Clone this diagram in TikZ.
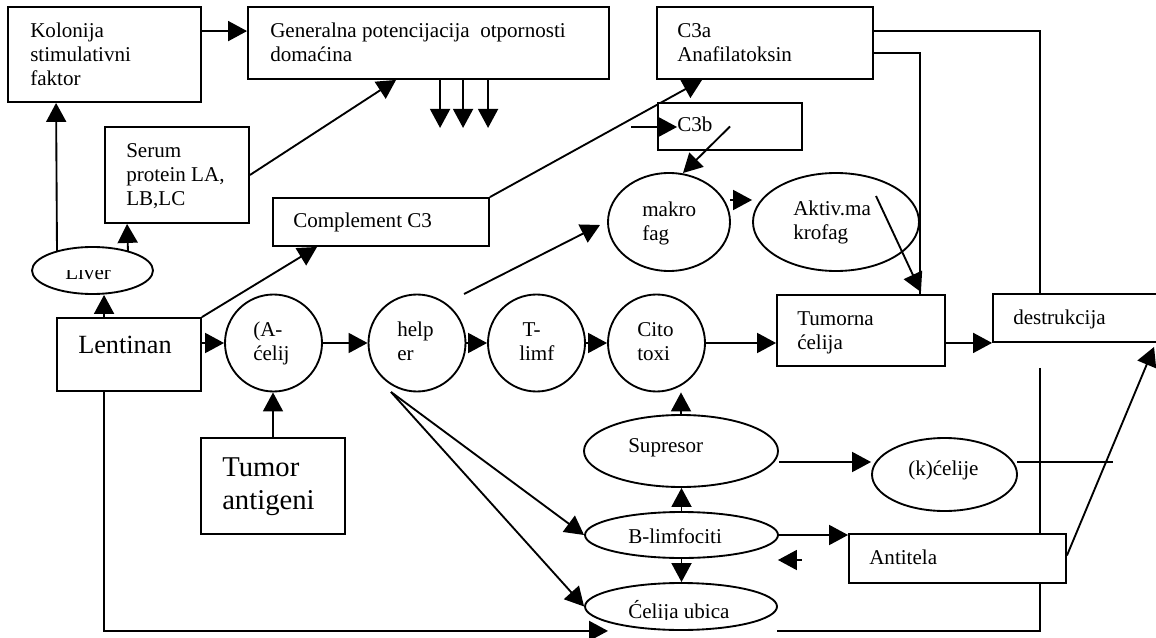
\documentclass[tikz,border=0pt]{standalone}
\usepackage{fontspec}
\setmainfont{Liberation Serif}
\usetikzlibrary{arrows.meta,fit,shapes.geometric,backgrounds,calc}
\newcommand\mlines[1]{\vtop{\halign{##\hfil\cr#1\crcr}}}
\begin{document}
\begin{tikzpicture}[x=0.75pt,y=-0.75pt,
  lw/.style={line width=1.4pt},
  box/.style={draw,lw,fill=white,rectangle,inner sep=0pt},
  oval/.style={draw,lw,fill=white,ellipse,inner sep=0pt},
  circ/.style={draw,lw,fill=white,circle,inner sep=0pt,minimum size=72.75pt},
  txt/.style={anchor=base west,inner sep=0pt,font=\fontsize{15.8}{18}\selectfont},
  arr/.style={lw,-{Triangle[length=14.25pt,width=15pt]}},
  con/.style={lw}]
\useasboundingbox (0,0) rectangle (1156,638);

% boxes
\node[box,fit={(8,7)(201,102)}] (kolonija) {};
\node[box,fit={(248,7)(609,79)}] (generalna) {};
\node[box,fit={(657,7)(873,79)}] (c3a) {};
\node[box,fit={(658,103)(802,150)}] (c3b) {};
\node[box,fit={(105,127)(249,223)}] (serum) {};
\node[box,fit={(273,198)(489,246)}] (complement) {};
\node[box,fit={(57,318)(201,391)}] (lentinan) {};
\node[box,fit={(777,295)(945,366)}] (tumorna) {};
\node[box,fit={(993,294)(1175,342)}] (destr) {};
\node[box,fit={(201,438)(345,534)}] (tumorant) {};
\node[box,fit={(849,534)(1066,583)}] (antitela) {};

% ellipses
\node[oval,minimum width=90.75pt,minimum height=35.25pt] (liver) at (92.5,270.5) {};
\node[oval,minimum width=91.5pt,minimum height=73.5pt] (makro) at (669,222) {};
\node[oval,minimum width=124.5pt,minimum height=73.5pt] (aktiv) at (836,222) {};
\node[oval,minimum width=145.5pt,minimum height=54pt] (supresor) at (681,451) {};
\node[oval,minimum width=144.75pt,minimum height=34.5pt] (blimf) at (681.5,535) {};
\node[oval,minimum width=144pt,minimum height=35.25pt] (celija) at (681,606.5) {};
\node[oval,minimum width=108.75pt,minimum height=54.75pt] (kcelije) at (944.5,474.5) {};

% circles
\node[circ] (acel) at (273.5,343) {};
\node[circ] (help) at (417,343) {};
\node[circ] (tlimf) at (536.5,343) {};
\node[circ] (cito) at (656.5,343) {};

% connectors behind the shapes
\begin{pgfonlayer}{background}
\draw[arr] ($(kolonija.north east)+(0,25)$) coordinate (a1) -- (a1 -| generalna.west);
\foreach \dx in {193,216,241} \draw[arr] ($(generalna.south west)+(\dx,0)$) -- ++(0,48);
\draw[arr] (serum.east) -- ($(generalna.south west)+(149,0)$);
\draw[arr] ($(liver.center)+(-35.5,-19)$) -- ($(kolonija.south west)+(49,0)$);
\draw[arr] ($(liver.center)+(35.5,-19)$) -- ($(serum.south west)+(23,0)$);
\draw[arr] ($(lentinan.north west)+(48,0)$) coordinate (a6) -- (a6 |- liver.south);
\draw[arr] (lentinan.north east) -- ($(complement.south west)+(45,0)$);
\draw[arr] (complement.north east) -- ($(c3a.south west)+(46,0)$);
\draw[arr] (acel.west -| lentinan.east) -- (acel.west);
\draw[arr] (acel) -- (help);
\draw[arr] (help) -- (tlimf);
\draw[arr] (tlimf) -- (cito);
\draw[arr] (cito.east) -- (cito.east -| tumorna.west);
\draw[arr] (destr.south west -| tumorna.east) -- (destr.south west);
\draw[arr] ($(help.center)+(47,-49)$) -- ($(makro.center)+(-69,3)$);
\draw[arr] ($(help.center)+(-26,49)$) coordinate (h1) -- (blimf.west);
\draw[arr] (h1) -- (celija.west);
\draw[arr] (tumorant.north) -- (tumorant.north |- acel.south);
\draw[arr] (supresor.north) -- (supresor.north |- cito.south);
\draw[arr] (blimf.north) -- (blimf.north |- supresor.south);
\draw[arr] (blimf.south) -- (blimf.south |- celija.north);
\draw[arr] ($(supresor.east)+(0,11)$) coordinate (s1) -- (s1 -| kcelije.west);
\draw[con] ($(kcelije.east)+(-1,-12.5)$) -- ($(kcelije.east)+(95,-12.5)$) coordinate (k2);
\draw[arr] (blimf.east) -- (blimf.east -| antitela.west);
\draw[arr] ($(blimf.east)+(23,25)$) coordinate (b2) -- ($(blimf.east)+(-1,25)$);
\draw[arr] ($(antitela.east)+(0,-3)$) -- ($(destr.south west)+(162,4)$);
\draw[con] ($(c3a.north east)+(0,25)$) -| ($(destr.north west)+(48,0)$);
\draw[con] ($(c3a.north east)+(0,47)$) -| ($(tumorna.north west)+(144,0)$);
\draw[con] ($(destr.south west)+(48,25)$) |- ($(celija.south)+(96,0)$);
\draw[arr] ($(lentinan.south west)+(48,0)$) |- ($(celija.south)+(-73,0)$);
\end{pgfonlayer}

% connectors drawn over the shapes
\draw[arr] ($(c3b.west)+(-26,0.5)$) -- ($(c3b.west)+(20,0.5)$);
\draw[arr] (c3b.center) -- ($(makro.center)+(14,-49)$);
\draw[arr] ($(makro.center)+(61,-22)$) -- ($(aktiv.west)+(0,-22)$);
\draw[arr] ($(aktiv.center)+(40,-26)$) -- ($(tumorna.north east)+(-25,-2)$);

% texts
\node[txt] (kolonija-t) at (30,38) {\mlines{Kolonija\cr stimulativni\cr faktor}};
\node[txt] (generalna-t) at (270,37.5) {\mlines{Generalna potencijacija\ \ otpornosti\cr domaćina}};
\node[txt] (c3a-t) at (677,37.5) {\mlines{C3a\cr Anafilatoksin}};
\node[txt] (c3b-t) at (677,132) {C3b};
\node[txt] (serum-t) at (126,157) {\mlines{Serum\cr protein LA,\cr LB,LC}};
\node[txt] (complement-t) at (293,227) {Complement C3};
\node[txt] (makro-t) at (642,216) {\mlines{makro\cr fag}};
\node[txt] (aktiv-t) at (793,215.5) {\mlines{Aktiv.ma\cr krofag}};
\begin{scope}
\clip (30,270) rectangle (160,300);
\node[txt] (liver-t) at (65,279) {Liver};
\end{scope}
\node[txt,font=\fontsize{19.7}{23}\selectfont] (lentinan-t) at (78,353) {Lentinan};
\node[txt] (acel-t) at (253,336) {\mlines{(A-\cr ćelij}};
\node[txt] (help-t) at (397,336) {\mlines{help\cr er}};
\node[txt] (tlimf-t) at (519,336) {\mlines{\kern2.5pt T-\cr limf}};
\node[txt] (cito-t) at (637,336) {\mlines{Cito\cr toxi}};
\node[txt] (tumorna-t) at (797,325) {\mlines{Tumorna\cr ćelija}};
\node[txt] (destr-t) at (1013,324) {destrukcija};
\node[txt,font=\fontsize{21.5}{24.75}\selectfont] (tumorant-t) at (222,476) {\mlines{Tumor\cr antigeni}};
\node[txt] (supresor-t) at (628,452) {Supresor};
\node[txt] (blimf-t) at (628,543) {B-limfociti};
\begin{scope}
\clip (590,590) rectangle (770,619.5);
\node[txt] (celija-t) at (628,618.5) {Ćelija ubica};
\end{scope}
\node[txt] (kcelije-t) at (908,475) {(k)ćelije};
\node[txt] (antitela-t) at (869,564) {Antitela};
\end{tikzpicture}
\end{document}
